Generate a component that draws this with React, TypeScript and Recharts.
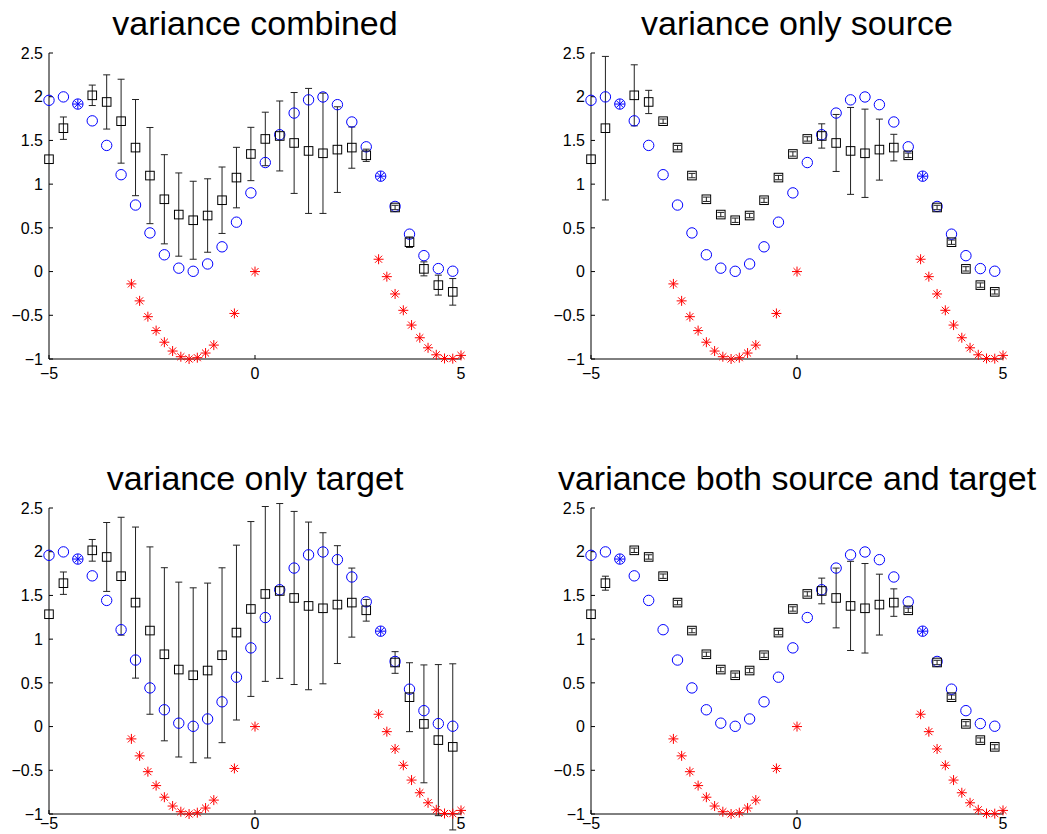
import { ScatterChart, Scatter, XAxis, YAxis, ErrorBar } from "recharts";

// input grid, blue circles = true target curve
const xGrid = [
  -5, -4.65, -4.3, -3.95, -3.6, -3.25, -2.9, -2.55, -2.2, -1.85, -1.5, -1.15, -0.8, -0.45, -0.1,
  0.25, 0.6, 0.95, 1.3, 1.65, 2.0, 2.35, 2.7, 3.05, 3.4, 3.75, 4.1, 4.45, 4.8,
];
const trueCurve = [
  1.959, 1.998, 1.916, 1.724, 1.443, 1.108, 0.761, 0.442, 0.192, 0.039, 0.003, 0.087, 0.283, 0.565, 0.9,
  1.247, 1.565, 1.813, 1.964, 1.997, 1.909, 1.711, 1.427, 1.091, 0.745, 0.428, 0.182, 0.034, 0.004,
];

// black squares = predictions
const predX = [
  -5, -4.65, -3.95, -3.6, -3.25, -2.9, -2.55, -2.2, -1.85, -1.5, -1.15, -0.8, -0.45, -0.1,
  0.25, 0.6, 0.95, 1.3, 1.65, 2.0, 2.35, 2.7, 3.4, 3.75, 4.1, 4.45, 4.8,
];
const predMean = [
  1.285, 1.64, 2.016, 1.94, 1.72, 1.418, 1.098, 0.827, 0.652, 0.587, 0.641, 0.816, 1.075, 1.345,
  1.517, 1.551, 1.471, 1.38, 1.353, 1.395, 1.418, 1.33, 0.733, 0.336, 0.031, -0.155, -0.232,
];

// error bar half widths per panel
const errCombined = [
  0, 0.128, 0.117, 0.31, 0.48, 0.55, 0.55, 0.51, 0.476, 0.446, 0.42, 0.38, 0.346, 0.305,
  0.306, 0.4, 0.577, 0.715, 0.688, 0.49, 0.236, 0.07, 0.025, 0.06, 0.08, 0.114, 0.152,
];
const errSource = [
  0, 0.821, 0.349, 0.133, 0.025, 0.025, 0.025, 0.025, 0.025, 0.025, 0.025, 0.025, 0.025, 0.025,
  0.025, 0.139, 0.326, 0.497, 0.505, 0.349, 0.152, 0.025, 0.025, 0.025, 0.025, 0.025, 0.025,
];
const errTarget = [
  0, 0.128, 0.124, 0.394, 0.674, 0.864, 0.957, 0.99, 1.0, 1.0, 1.0, 1.0, 1.0, 1.0,
  1.0, 1.0, 0.99, 0.959, 0.864, 0.674, 0.395, 0.124, 0.124, 0.394, 0.674, 0.864, 0.95,
];
const errBoth = [
  0, 0.08, 0.025, 0.025, 0.025, 0.025, 0.025, 0.025, 0.025, 0.025, 0.025, 0.025, 0.025, 0.025,
  0.025, 0.147, 0.342, 0.51, 0.512, 0.348, 0.157, 0.025, 0.025, 0.025, 0.025, 0.025, 0.025,
];

// red asterisks = source data
const sourceX = [
  -3, -2.8, -2.6, -2.4, -2.2, -2, -1.8, -1.6, -1.4, -1.2, -1, -0.5, 0,
  3, 3.2, 3.4, 3.6, 3.8, 4, 4.2, 4.4, 4.6, 4.8, 5,
];
const sourceY = [
  -0.141, -0.335, -0.516, -0.675, -0.808, -0.909, -0.974, -1.0, -0.985, -0.932, -0.841, -0.479, 0,
  0.141, -0.058, -0.256, -0.443, -0.612, -0.757, -0.872, -0.952, -0.994, -0.996, -0.959,
];

// blue asterisks = target training points
const targetTrainX = [-4.3, 3.05];
const targetTrainY = [1.916, 1.091];

const xTicks = [-5, 0, 5];
const yTicks = [-1, -0.5, 0, 0.5, 1, 1.5, 2, 2.5];
const titles = [
  "variance combined",
  "variance only source",
  "variance only target",
  "variance both source and target",
];

const FONT = "'Liberation Sans', Arial, Helvetica, sans-serif";

const fmt = (v: number) => (v < 0 ? "\u2212" + Math.abs(v) : String(v));

const circleData = xGrid.map((x, i) => ({ x, y: trueCurve[i] }));
const sourceData = sourceX.map((x, i) => ({ x, y: sourceY[i] }));
const trainData = targetTrainX.map((x, i) => ({ x, y: targetTrainY[i] }));

const BlueCircle = (p: any) => (
  <circle cx={p.cx} cy={p.cy} r={5.2} fill="none" stroke="#0000ff" strokeWidth={1} />
);

const BlackSquare = (p: any) => (
  <rect x={p.cx - 4.3} y={p.cy - 4.3} width={8.6} height={8.6} fill="none" stroke="#000" strokeWidth={1} />
);

const Nothing = () => <g />;

function makeStar(color: string) {
  return (p: any) => {
    const r = 5;
    const d = r * 0.7071;
    const { cx, cy } = p;
    return (
      <g stroke={color} strokeWidth={1}>
        <line x1={cx - r} y1={cy} x2={cx + r} y2={cy} />
        <line x1={cx} y1={cy - r} x2={cx} y2={cy + r} />
        <line x1={cx - d} y1={cy - d} x2={cx + d} y2={cy + d} />
        <line x1={cx - d} y1={cy + d} x2={cx + d} y2={cy - d} />
      </g>
    );
  };
}

const RedStar = makeStar("#ff0000");
const BlueStar = makeStar("#0000ff");

interface PanelProps {
  title: string;
  err: number[];
  left: number;
  top: number;
  axisH: number;
  labelGap: number;
}

function Panel({ title, err, left, top, axisH, labelGap }: PanelProps) {
  const predData = predX.map((x, i) => ({ x, y: predMean[i], e: err[i] }));
  return (
    <div style={{ position: "absolute", left, top }}>
      <div
        style={{
          position: "absolute",
          left: 255,
          top: -34,
          transform: "translateX(-50%)",
          fontFamily: FONT,
          fontSize: 34,
          lineHeight: "34px",
          whiteSpace: "nowrap",
          color: "#000",
        }}
      >
        {title}
      </div>
      <ScatterChart
        width={470}
        height={13 + 306 + axisH}
        margin={{ top: 13, right: 9, left: 0, bottom: 0 }}
      >
        <XAxis
          type="number"
          dataKey="x"
          domain={[-5, 5]}
          ticks={xTicks}
          tickFormatter={fmt}
          height={axisH}
          tickSize={-4}
          tickMargin={labelGap}
          stroke="#000"
          tick={{ fill: "#000", fontSize: 16, fontFamily: FONT }}
        />
        <XAxis
          xAxisId="top"
          orientation="top"
          type="number"
          dataKey="x"
          domain={[-5, 5]}
          ticks={xTicks}
          height={0}
          tickSize={-4}
          tick={false}
          stroke="#000"
        />
        <YAxis
          type="number"
          dataKey="y"
          domain={[-1, 2.5]}
          ticks={yTicks}
          tickFormatter={fmt}
          width={49}
          tickSize={-4}
          tickMargin={10}
          stroke="#000"
          tick={{ fill: "#000", fontSize: 16, fontFamily: FONT }}
        />
        <YAxis
          yAxisId="right"
          orientation="right"
          type="number"
          dataKey="y"
          domain={[-1, 2.5]}
          ticks={yTicks}
          width={0}
          tickSize={-4}
          tick={false}
          stroke="#000"
        />
        <YAxis yAxisId="clip" type="number" dataKey="y" domain={[-1, 2.5]} allowDataOverflow hide />
        <Scatter data={circleData} shape={BlueCircle} isAnimationActive={false} />
        <Scatter data={sourceData} shape={RedStar} isAnimationActive={false} />
        <Scatter data={predData} yAxisId="clip" shape={Nothing} isAnimationActive={false}>
          <ErrorBar dataKey="e" direction="y" width={3.5} stroke="#222" strokeWidth={1} />
        </Scatter>
        <Scatter data={predData} shape={BlackSquare} isAnimationActive={false} />
        <Scatter data={trainData} shape={BlueStar} isAnimationActive={false} />
      </ScatterChart>
    </div>
  );
}

export default function App() {
  return (
    <div style={{ position: "absolute", left: 0, top: 0, width: 1047, height: 834, background: "#fff", overflow: "hidden" }}>
      <Panel title={titles[0]} err={errCombined} left={0} top={40} axisH={30} labelGap={13} />
      <Panel title={titles[1]} err={errSource} left={542} top={40} axisH={30} labelGap={13} />
      <Panel title={titles[2]} err={errTarget} left={0} top={495} axisH={20} labelGap={8} />
      <Panel title={titles[3]} err={errBoth} left={542} top={495} axisH={20} labelGap={8} />
    </div>
  );
}
